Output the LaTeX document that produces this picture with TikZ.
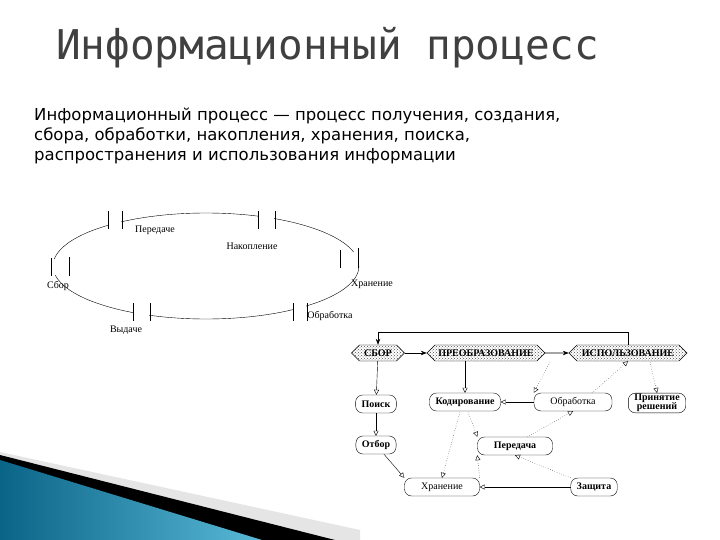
\documentclass[tikz,border=0pt]{standalone}
\usepackage{fontspec}
\setmainfont{DejaVu Sans}
\newfontfamily\dserif{Liberation Serif}
\newfontfamily\dmono{DejaVu Sans Mono}
\usetikzlibrary{patterns,shapes.misc,arrows.meta}
\definecolor{tealA}{RGB}{10,100,135}
\definecolor{tealB}{RGB}{90,185,215}
\begin{document}
\begin{tikzpicture}[x=1pt,y=-1pt,
  lbl/.style={font=\dserif\fontsize{10}{11}\selectfont,inner sep=0},
  hexa/.style={draw,chamfered rectangle,chamfered rectangle xsep=2cm,chamfered rectangle angle=45,pattern=crosshatch dots,pattern color=black!70,font=\dserif\bfseries\fontsize{10}{11}\selectfont,minimum height=16pt,inner sep=1pt,inner xsep=3pt},
  rbox/.style={draw,rounded corners=7pt,font=\dserif\fontsize{10}{11}\selectfont,minimum height=18pt,inner xsep=6pt,align=center,fill=white},
  bbox/.style={rbox,font=\dserif\bfseries\fontsize{10}{11}\selectfont},
  sol/.style={-{Triangle[open,length=5pt,width=5pt]},thin},
  dot/.style={-{Triangle[open,length=5pt,width=5pt]},thin,dotted}]
\useasboundingbox (0,0) rectangle (720,540);
\fill[white] (0,0) rectangle (720,540);
% corner wedge
\fill[black!10] (0,452) -- (360,530) -- (360,540) -- (0,540) -- cycle;
\fill[black] (0,455) -- (335,540) -- (0,540) -- cycle;
\shade[left color=tealA, right color=tealB] (0,460) -- (262,540) -- (0,540) -- cycle;
% title & text
\node[anchor=west,font=\dmono\fontsize{41}{44}\selectfont,text=black!75,inner sep=0] (title) at (56,48) {Информационный процесс};
\node[anchor=north west,align=left,font=\fontsize{16.5}{20}\selectfont,inner sep=0] (body) at (34,108) {Информационный процесс — процесс получения, создания,\\сбора, обработки, накопления, хранения, поиска,\\распространения и использования информации};
% ring
\draw[thin] (206,266) ellipse [x radius=153, y radius=53];
\foreach \a/\b/\y in {108/122/220,258/275/220,133/150/312,293/307/312}{
  \fill[white] (\a+1,\y-10) rectangle (\b-1,\y+10);
  \draw (\a,\y-9) -- (\a,\y+9) (\b,\y-9) -- (\b,\y+9);}
\fill[white] (40,259) rectangle (70,275);
\fill[white] (340,252) rectangle (372,266);
\draw (51,258) -- (51,276) (69,257) -- (69,276);
\draw (340,250) -- (340,268) (358,248) -- (358,268);
\node[lbl] (l1) at (155,230) {Передаче};
\node[lbl] (l2) at (252,246) {Накопление};
\node[lbl] (l3) at (372,284) {Хранение};
\node[lbl] (l4) at (330,316) {Обработка};
\node[lbl] (l5) at (126,330) {Выдаче};
\node[lbl] (l6) at (58,286) {Сбор};
% right diagram
\node[hexa,minimum width=53pt] (sbor) at (378,353) {СБОР};
\node[hexa,minimum width=118pt] (preo) at (486,353) {ПРЕОБРАЗОВАНИЕ};
\node[hexa,minimum width=118pt] (isp) at (628,353) {ИСПОЛЬЗОВАНИЕ};
\node[bbox] (poisk) at (376,404) {Поиск};
\node[bbox] (kod) at (465,402) {Кодирование};
\node[rbox,minimum width=78pt] (obr) at (573,402) {Обработка};
\node[bbox,inner ysep=1pt] (prin) at (657,403) {Принятие\\[-2pt]решений};
\node[bbox] (otb) at (376,445) {Отбор};
\node[bbox,minimum width=75pt] (per) at (515,446) {Передача};
\node[rbox,minimum width=75pt] (hr) at (442,487) {Хранение};
\node[bbox] (zas) at (594,487) {Защита};
\coordinate (c1) at (460,412);
\coordinate (c2) at (468,412);
\coordinate (c3) at (527,437);
\coordinate (c4) at (550,362);
\coordinate (c5) at (592,393);
\coordinate (c6) at (650,362);
\draw[-{Stealth[length=6pt]},semithick] (sbor) -- (preo);
\draw[-{Stealth[length=6pt]},semithick] (preo) -- (isp);
\draw[-{Stealth[length=6pt]},semithick] (isp.north) -- ++(0,-12) -| (sbor.north);
\draw[sol] (sbor) -- (poisk);
\draw[sol] (poisk) -- (otb);
\draw[sol] (otb) -- (hr.north west);
\draw[sol] (preo.south -| kod) -- (kod);
\draw[dot] (c4) -- (obr.north west);
\draw[dot] (c5) -- (isp.south);
\draw[dot] (c6) -- (prin.north);
\draw[sol] (obr) -- (kod);
\draw[dot] (c1) -- (hr.north);
\draw[dot] (c2) -- (per.north west);
\draw[dot] (c3) -- (obr.south);
\draw[dot] (hr.north east) -- (per.south west);
\draw[dot] (zas.north west) -- (per.south);
\draw[sol] (zas) -- (hr);
\end{tikzpicture}
\end{document}
